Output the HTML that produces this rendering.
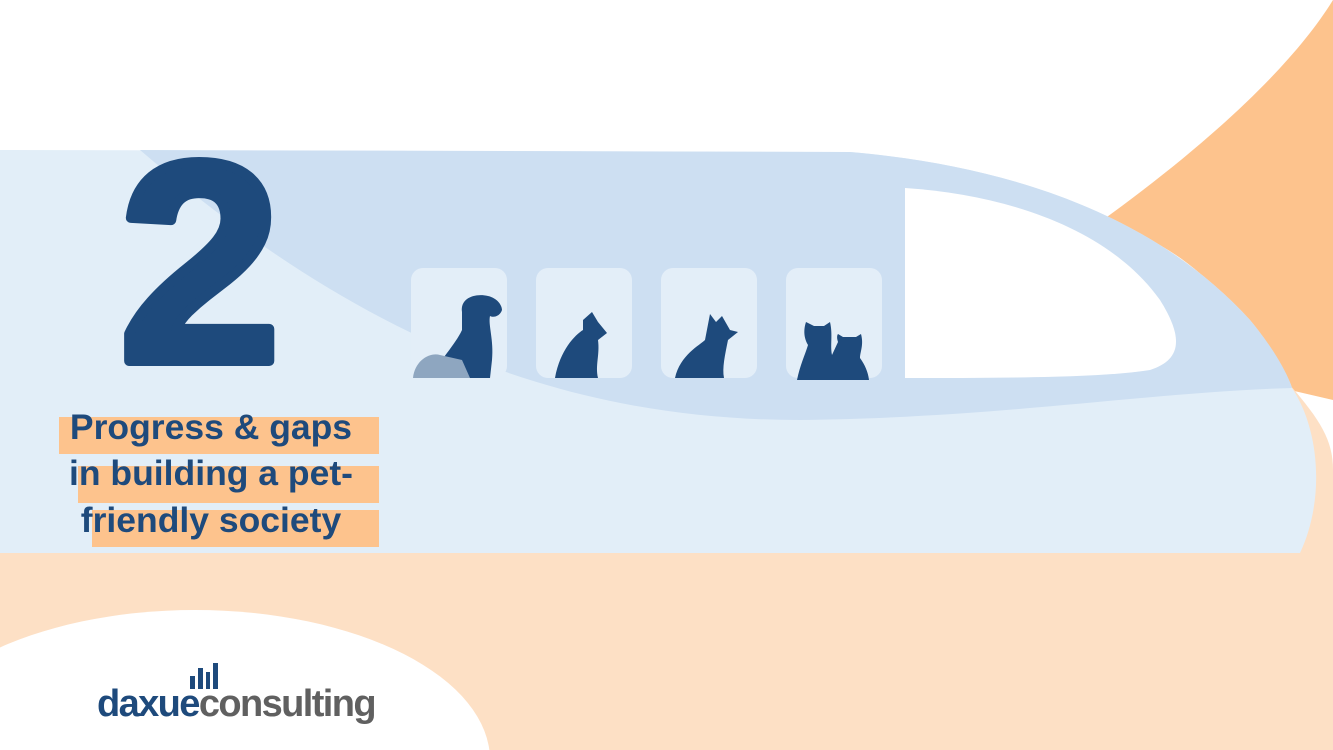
<!DOCTYPE html>
<html><head><meta charset="utf-8"><style>
html,body{margin:0;width:1333px;height:750px;overflow:hidden;background:#fff;font-family:"Liberation Sans",sans-serif}
svg{position:absolute;left:0;top:0;display:block}
</style></head><body>
<svg width="1333" height="750" viewBox="0 0 1333 750">
<rect x="0" y="553" width="1333" height="197" fill="#fde0c5"/>
<path d="M1333 0 L1333 400 L1290 390 C1240 300 1180 240 1100 222 C1200 150 1290 70 1333 0Z" fill="#fdc38d"/>
<path d="M1290 385 C1320 420 1333 440 1333 470 L1333 553 L1290 553Z" fill="#fde0c5"/>
<path d="M0 150 L850 152 C1000 165 1150 210 1250 320 C1275 350 1290 380 1292 388 C1320 430 1325 500 1300 553 L0 553Z" fill="#e2eef8"/>
<path d="M140 150 L850 152 C1000 165 1150 210 1250 320 C1275 350 1288 375 1292 388 C1150 392 1000 418 800 420 C550 420 350 330 140 150Z" fill="#cddff2"/>
<path d="M905 188 C1010 195 1110 230 1160 300 C1185 340 1180 360 1150 370 C1100 378 1000 378 905 378Z" fill="#fff"/>
<ellipse cx="195" cy="760" rx="295" ry="150" fill="#fff"/>
<g fill="#e3eef8">
<rect x="411" y="268" width="96" height="110" rx="12"/>
<rect x="536" y="268" width="96" height="110" rx="12"/>
<rect x="661" y="268" width="96" height="110" rx="12"/>
<rect x="786" y="268" width="96" height="110" rx="12"/>
</g>
<g fill="#1e4a7c">
<path d="M462 312 C460 298 475 293 488 296 C497 298 502 305 502 310 C500 316 494 318 490 316 C488 325 494 340 492 360 L490 378 L430 378 C440 360 455 345 462 330Z"/>
<path d="M555 378 C560 350 575 335 583 330 L583 320 L592 312 L598 322 L607 333 L598 340 C600 355 595 365 598 378Z"/>
<path d="M675 378 C680 355 700 345 705 340 L710 314 L716 322 L722 316 L730 330 L738 332 L728 340 C725 355 722 368 724 378Z"/>
<path d="M797 380 C800 365 805 355 808 345 C802 335 805 325 806 322 L814 326 L824 326 L830 322 C833 335 830 345 832 355 L838 342 C836 336 838 334 838 334 L843 337 L856 337 L861 334 C864 345 860 352 860 358 C865 365 868 372 869 380Z"/>
</g>
<path d="M413 378 C415 360 430 352 440 355 L462 360 L470 378Z" fill="#8ea6c0"/>
<text x="200" y="361" font-family="Liberation Sans" font-weight="bold" font-size="285" fill="#1e4a7c" stroke="#1e4a7c" stroke-width="10" stroke-linejoin="round" text-anchor="middle" transform="translate(200 0) scale(1.02 1) translate(-200 0)">2</text>
<g fill="#fdc38d">
<rect x="59" y="417" width="320" height="37"/>
<rect x="78" y="466" width="301" height="37"/>
<rect x="92" y="510" width="287" height="37"/>
</g>
<g font-family="Liberation Sans" font-weight="bold" font-size="35.5" fill="#1e4a7c" text-anchor="middle">
<text x="211" y="439">Progress &amp; gaps</text>
<text x="211" y="485">in building a pet-</text>
<text x="211" y="532">friendly society</text>
</g>
<g fill="#1e4a7c">
<rect x="190" y="676" width="5" height="13"/>
<rect x="198" y="668" width="5" height="21"/>
<rect x="206" y="672" width="4" height="17"/>
<rect x="213" y="663" width="5" height="26"/>
</g>
<text x="97" y="716" font-family="Liberation Sans" font-weight="bold" font-size="38" letter-spacing="-1.6"><tspan fill="#1e4a7c">daxue</tspan><tspan fill="#606060">consulting</tspan></text>
</svg>
</body></html>
